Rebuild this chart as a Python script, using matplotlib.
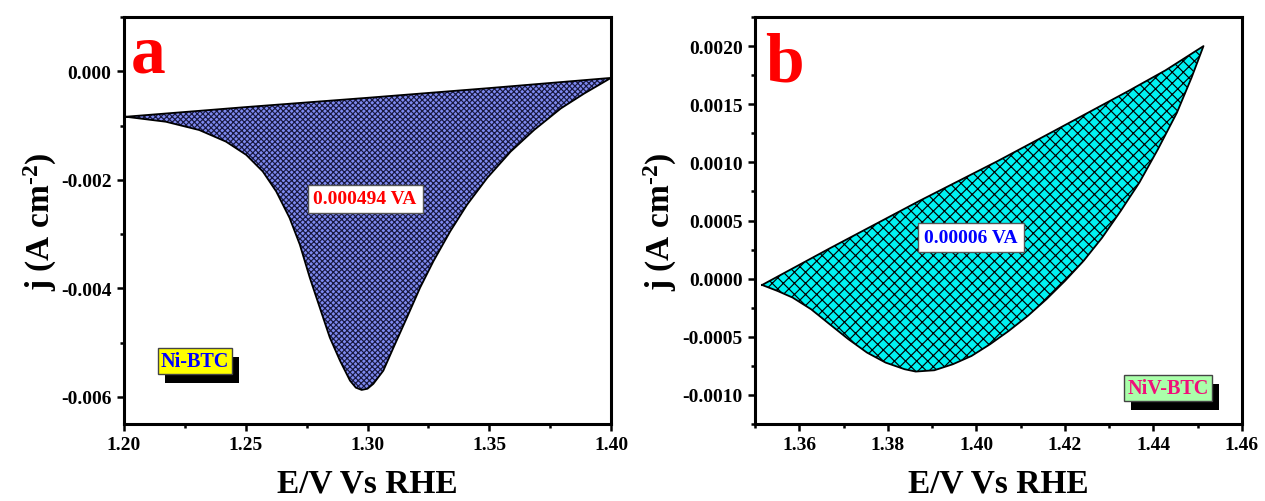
import matplotlib
matplotlib.use("Agg")
import matplotlib.pyplot as plt
import numpy as np
from matplotlib.ticker import MultipleLocator, FormatStrFormatter
from matplotlib.patches import Rectangle

plt.rcParams['font.family'] = ['Liberation Serif', 'DejaVu Serif']
plt.rcParams['font.weight'] = 'bold'
plt.rcParams['axes.unicode_minus'] = False
plt.rcParams['mathtext.fontset'] = 'custom'
plt.rcParams['mathtext.rm'] = 'Liberation Serif:bold'
plt.rcParams['mathtext.bf'] = 'Liberation Serif:bold'
plt.rcParams['mathtext.it'] = 'Liberation Serif:bold'
plt.rcParams['mathtext.default'] = 'bf'
plt.rcParams['hatch.linewidth'] = 0.85

# ---- Panel a: Ni-BTC ----
a_upper_E = [1.2007, 1.25, 1.30, 1.35, 1.4000]
a_upper_j = [-0.000838, -0.000660, -0.000489, -0.000310, -0.000122]
a_lower_E = [1.2007, 1.2172, 1.2309, 1.2419, 1.2502, 1.2570, 1.2625, 1.2680, 1.2722,
             1.2763, 1.2804, 1.2845, 1.2887, 1.2928, 1.2952, 1.2976, 1.3000, 1.3024,
             1.3065, 1.3107, 1.3162, 1.3216, 1.3271, 1.3340, 1.3409, 1.3491, 1.3588,
             1.3684, 1.3794, 1.3890, 1.4000]
a_lower_j = [-0.000838, -0.000930, -0.001083, -0.001297, -0.001541, -0.001847, -0.002214,
             -0.002703, -0.003193, -0.003804, -0.004355, -0.004905, -0.005333, -0.005700,
             -0.005830, -0.005872, -0.005850, -0.005760, -0.005517, -0.005089, -0.004538,
             -0.003988, -0.003498, -0.002948, -0.002459, -0.001969, -0.001480, -0.001083,
             -0.000685, -0.000410, -0.000122]
a_area = "0.000494 VA"
a_name = "Ni-BTC"

# ---- Panel b: NiV-BTC ----
b_upper_E = [1.3516, 1.3669, 1.3871, 1.4048, 1.4175, 1.4343, 1.4427, 1.4513]
b_upper_j = [-0.0000544, 0.000261, 0.000668, 0.001011, 0.001269, 0.001613, 0.001791, 0.002000]
b_lower_E = [1.3516, 1.3551, 1.3585, 1.3627, 1.3669, 1.3711, 1.3753, 1.3795, 1.3838,
             1.3863, 1.3905, 1.3947, 1.3989, 1.4031, 1.4073, 1.4116, 1.4158, 1.4200,
             1.4242, 1.4284, 1.4326, 1.4368, 1.4410, 1.4453, 1.4486, 1.4513]
b_lower_j = [-0.0000544, -0.000106, -0.000163, -0.000264, -0.000393, -0.000521, -0.000636,
             -0.000722, -0.000779, -0.000799, -0.000788, -0.000736, -0.000665, -0.000564,
             -0.000450, -0.000321, -0.000178, -0.000020, 0.000152, 0.000352, 0.000582,
             0.000825, 0.001112, 0.001427, 0.001728, 0.002000]
b_area = "0.00006 VA"
b_name = "NiV-BTC"

xlabel = "E/V Vs RHE"
ylabel = r"j (A cm$^{\text{-2}}$)"

fig = plt.figure(figsize=(12.65, 5.02), dpi=100)
axA = fig.add_axes([124/1265, 77/502, 487/1265, 407/502])
axB = fig.add_axes([755/1265, 77/502, 487/1265, 407/502])


def loop(upE, upj, loE, loj):
    E = np.concatenate([np.array(upE), np.array(loE)[::-1]])
    j = np.concatenate([np.array(upj), np.array(loj)[::-1]])
    return E, j


def style(ax, xmaj, xmin, ymaj, ymin, yfmt, xfmt):
    for s in ax.spines.values():
        s.set_linewidth(2.2)
    ax.xaxis.set_major_locator(MultipleLocator(xmaj))
    ax.xaxis.set_minor_locator(MultipleLocator(xmin))
    ax.yaxis.set_major_locator(MultipleLocator(ymaj))
    ax.yaxis.set_minor_locator(MultipleLocator(ymin))
    ax.yaxis.set_major_formatter(FormatStrFormatter(yfmt))
    ax.xaxis.set_major_formatter(FormatStrFormatter(xfmt))
    ax.tick_params(which='major', direction='out', length=5, width=1.8,
                   labelsize=14, pad=4)
    ax.tick_params(which='minor', direction='out', length=3, width=1.8)
    ax.tick_params(top=False, right=False, which='both')
    for lab in ax.get_xticklabels() + ax.get_yticklabels():
        lab.set_fontweight('bold')
    ax.set_xlabel(xlabel, fontsize=24, fontweight='bold', va='center')
    ax.set_ylabel(ylabel, fontsize=24, fontweight='bold', va='center')
    ax.xaxis.set_label_coords(0.5, -0.145)


labels = []


def boxed_label(ax, x, y, text, tcolor, fcolor):
    t = ax.text(x, y, text, transform=ax.transAxes, ha='center', va='center',
                fontsize=14.5, fontweight='bold', color=tcolor, zorder=6,
                bbox=dict(boxstyle='square,pad=0.15', fc=fcolor, ec='#444444', lw=1))
    labels.append((ax, t))


# Panel a
E, j = loop(a_upper_E, a_upper_j, a_lower_E, a_lower_j)
axA.fill(E, j, facecolor='#7e8af0', edgecolor='#181840', hatch='xxxxxx', lw=0, zorder=2)
axA.plot(E, j, color='black', lw=1.3, zorder=3)
axA.set_xlim(1.20, 1.40)
axA.set_ylim(-0.0065, 0.001)
style(axA, 0.05, 0.025, 0.002, 0.001, '%.3f', '%.2f')
axA.yaxis.set_label_coords(-0.172, 0.5)
axA.text(0.05, 0.867, 'a', transform=axA.transAxes, ha='center', va='baseline',
         fontsize=50, fontweight='bold', color='#ff0000')
axA.text(0.495, 0.553, a_area, transform=axA.transAxes, ha='center', va='center',
         fontsize=14, fontweight='bold', color='#ff0000', zorder=6,
         bbox=dict(boxstyle='square,pad=0.3', fc='white', ec='#555555', lw=1))
boxed_label(axA, 0.146, 0.155, a_name, '#0000ff', '#ffff00')

# Panel b
E, j = loop(b_upper_E, b_upper_j, b_lower_E, b_lower_j)
axB.fill(E, j, facecolor='#00f2f2', edgecolor='black', hatch='xxx', lw=0, zorder=2)
axB.plot(E, j, color='black', lw=1.3, zorder=3)
axB.set_xlim(1.35, 1.46)
axB.set_ylim(-0.00125, 0.00225)
style(axB, 0.02, 0.01, 0.0005, 0.00025, '%.4f', '%.2f')
axB.yaxis.set_label_coords(-0.195, 0.5)
axB.text(0.06, 0.843, 'b', transform=axB.transAxes, ha='center', va='baseline',
         fontsize=50, fontweight='bold', color='#ff0000')
axB.text(0.4435, 0.459, b_area, transform=axB.transAxes, ha='center', va='center',
         fontsize=14, fontweight='bold', color='#0000ff', zorder=6,
         bbox=dict(boxstyle='square,pad=0.3', fc='white', ec='#555555', lw=1))
boxed_label(axB, 0.848, 0.088, b_name, '#f0107a', '#aaffaa')

# drop shadows behind the name boxes
fig.canvas.draw()
r = fig.canvas.get_renderer()
for ax, t in labels:
    bb = t.get_bbox_patch().get_window_extent(r)
    inv = ax.transAxes.inverted()
    (x0, y0) = inv.transform((bb.x0 + 7, bb.y0 - 9))
    (x1, y1) = inv.transform((bb.x1 + 7, bb.y1 - 9))
    ax.add_patch(Rectangle((x0, y0), x1 - x0, y1 - y0, transform=ax.transAxes,
                           fc='black', ec='none', zorder=5))

fig.savefig('out.png', dpi=100)
